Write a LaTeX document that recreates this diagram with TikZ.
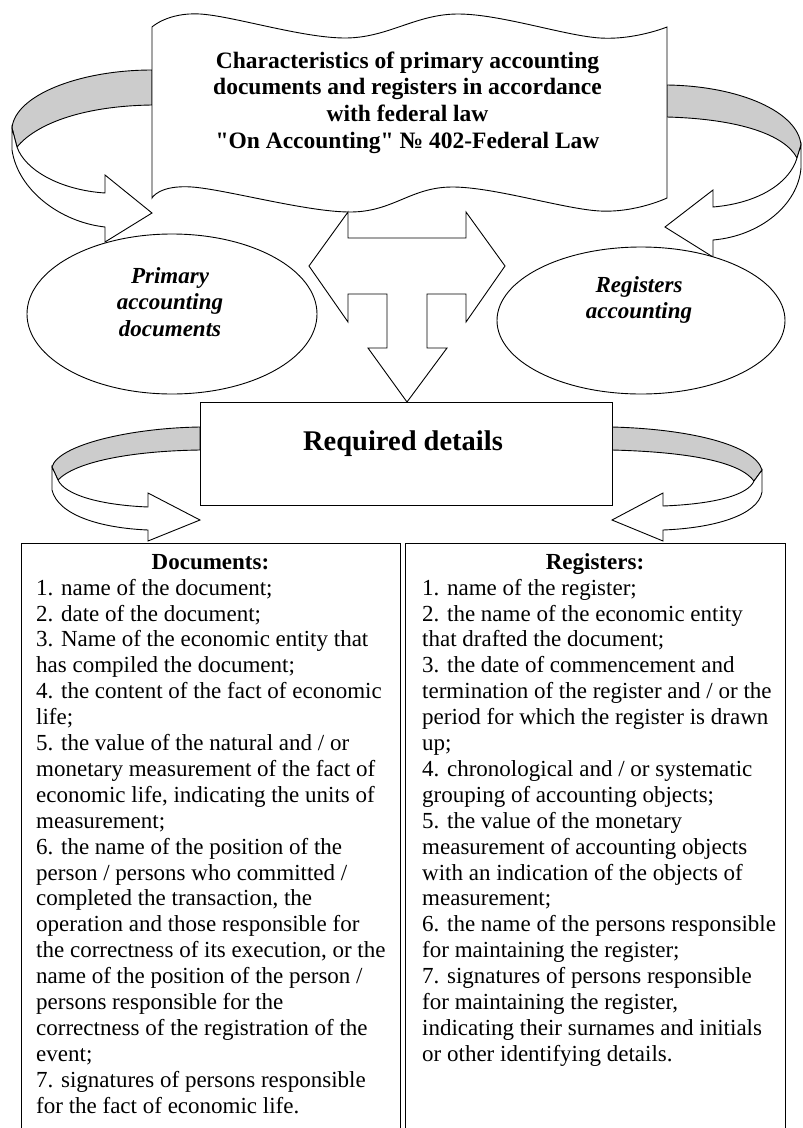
\documentclass[tikz,border=0pt]{standalone}
\usepackage{fontspec}
\setmainfont{Liberation Serif}[Ligatures=TeXOff]
\usetikzlibrary{shapes.geometric}
\definecolor{ribbongray}{RGB}{204,204,204}
\tikzset{back/.style={draw=black,fill=ribbongray,line width=0.9pt}}
\tikzset{front/.style={draw=black,fill=white,line width=0.9pt}}
\tikzset{oval/.style={ellipse,draw,fill=white,line width=0.9pt,inner sep=0pt}}
\tikzset{listtxt/.style={anchor=north west,inner sep=0pt,align=left,
    font=\fontsize{23}{25.9}\selectfont}}
\tikzset{headtxt/.style={anchor=base,inner sep=0pt,
    font=\fontsize{23}{25.9}\selectfont\bfseries}}

\begin{document}
\begin{tikzpicture}[x=1pt,y=-1pt]
                \path[use as bounding box] (0,0) rectangle (803,1128);
                \clip (0,0) rectangle (803,1128);

                % Ribbons round the banner
                \draw[back] (152,70) .. controls (80,70) and (15,95) .. (12,128) -- (17,147)
                    .. controls (35,125) and (80,106) .. (152,105) -- cycle;
                \draw[front] (12,128) -- (12,150) .. controls (18,190) and (60,222) .. (105,227)
                    -- (105,242) -- (152,213) -- (105,175) -- (105,193)
                    .. controls (60,190) and (25,170) .. (17,147) -- cycle;

                \draw[back] (667,85) .. controls (740,86) and (798,112) .. (801,145) -- (797,158)
                    .. controls (785,135) and (740,119) .. (667,117) -- cycle;
                \draw[front] (801,145) -- (801,168) .. controls (798,205) and (760,236) .. (713,240)
                    -- (713,257) -- (665,227) -- (713,190) -- (713,207)
                    .. controls (760,203) and (790,182) .. (797,158) -- cycle;

                % Banner
                \draw[front] plot[smooth,tension=0.6] coordinates {(152,27) (200,14) (345,38) (458,14) (600,38) (667,27)}
                    -- plot[smooth,tension=0.6] coordinates {(667,198) (600,211) (452,187) (350,212) (192,187) (152,198)} -- cycle;
                \node[anchor=north,inner sep=0pt,align=center,font=\fontsize{23.5}{26.7}\selectfont\bfseries]
                    (lawtxt) at (407.5,49.3) {\strut Characteristics of primary accounting\\
                    documents and registers in accordance\\ with federal law\\
                    "On Accounting" № 402-Federal Law};

                % Ellipses
                \node[oval,minimum width=290,minimum height=160] (primary) at (172,314) {};
                \node[anchor=north,inner sep=0pt,align=center,font=\fontsize{23}{26.5}\selectfont\bfseries\itshape]
                    (primarytxt) at (170,264.5) {\strut Primary\\ accounting\\ documents};
                \node[oval,minimum width=288,minimum height=147] (registers) at (641,320.5) {};
                \node[anchor=north,inner sep=0pt,align=center,font=\fontsize{23}{26.5}\selectfont\bfseries\itshape]
                    (registerstxt) at (639,273.5) {\strut Registers\\ accounting};

                % Three-way arrow
                \draw[front] (309,266) -- (348,212) -- (348,238) -- (466,238) -- (466,212) -- (505,266)
                    -- (466,322) -- (466,294) -- (427,294) -- (427,348) -- (447,348) -- (407,402)
                    -- (368,348) -- (387,348) -- (387,294) -- (348,294) -- (348,322) -- cycle;

                % Ribbons round the details box
                \draw[back] (200,427) .. controls (130,428) and (58,445) .. (52,467) -- (58,480)
                    .. controls (75,462) and (130,451) .. (200,450) -- cycle;
                \draw[front] (52,467) -- (52,490) .. controls (58,515) and (100,528) .. (148,530)
                    -- (148,541) -- (200,520) -- (148,493) -- (148,507)
                    .. controls (100,505) and (65,495) .. (58,480) -- cycle;

                \draw[back] (612,427) .. controls (690,429) and (755,445) .. (762,470) -- (754,481)
                    .. controls (740,462) and (690,452) .. (612,450) -- cycle;
                \draw[front] (762,470) -- (762,492) .. controls (758,515) and (715,528) .. (663,530)
                    -- (663,541) -- (612,520) -- (663,493) -- (663,506)
                    .. controls (715,504) and (748,495) .. (754,481) -- cycle;

                % Details box
                \node[draw,fill=white,line width=0.9pt,anchor=north west,minimum width=412,minimum height=103,inner sep=0pt]
                    (details) at (200,402) {};
                \node[anchor=base,inner sep=0pt,font=\fontsize{28.5}{32}\selectfont\bfseries]
                    (detailstxt) at (403,450) {Required details};

                % Lists
                \draw[line width=1pt] (21,543) rectangle (400,1140);
                \draw[line width=1pt] (405,543) rectangle (785,1140);

                \node[headtxt] (dochead) at (210.5,569) {Documents:};
                \node[listtxt] (doclist) at (36,576.8) {\strut 1. name of the document;\\
                    2. date of the document;\\
                    3. Name of the economic entity that\\
                    has compiled the document;\\
                    4. the content of the fact of economic\\
                    life;\\
                    5. the value of the natural and / or\\
                    monetary measurement of the fact of\\
                    economic life, indicating the units of\\
                    measurement;\\
                    6. the name of the position of the\\
                    person / persons who committed /\\
                    completed the transaction, the\\
                    operation and those responsible for\\
                    the correctness of its execution, or the\\
                    name of the position of the person /\\
                    persons responsible for the\\
                    correctness of the registration of the\\
                    event;\\
                    7. signatures of persons responsible\\
                    for the fact of economic life.};

                \node[headtxt] (reghead) at (595,569) {Registers:};
                \node[listtxt] (reglist) at (422,576.8) {\strut 1. name of the register;\\
                    2. the name of the economic entity\\
                    that drafted the document;\\
                    3. the date of commencement and\\
                    termination of the register and / or the\\
                    period for which the register is drawn\\
                    up;\\
                    4. chronological and / or systematic\\
                    grouping of accounting objects;\\
                    5. the value of the monetary\\
                    measurement of accounting objects\\
                    with an indication of the objects of\\
                    measurement;\\
                    6. the name of the persons responsible\\
                    for maintaining the register;\\
                    7. signatures of persons responsible\\
                    for maintaining the register,\\
                    indicating their surnames and initials\\
                    or other identifying details.};
\end{tikzpicture}
\end{document}
